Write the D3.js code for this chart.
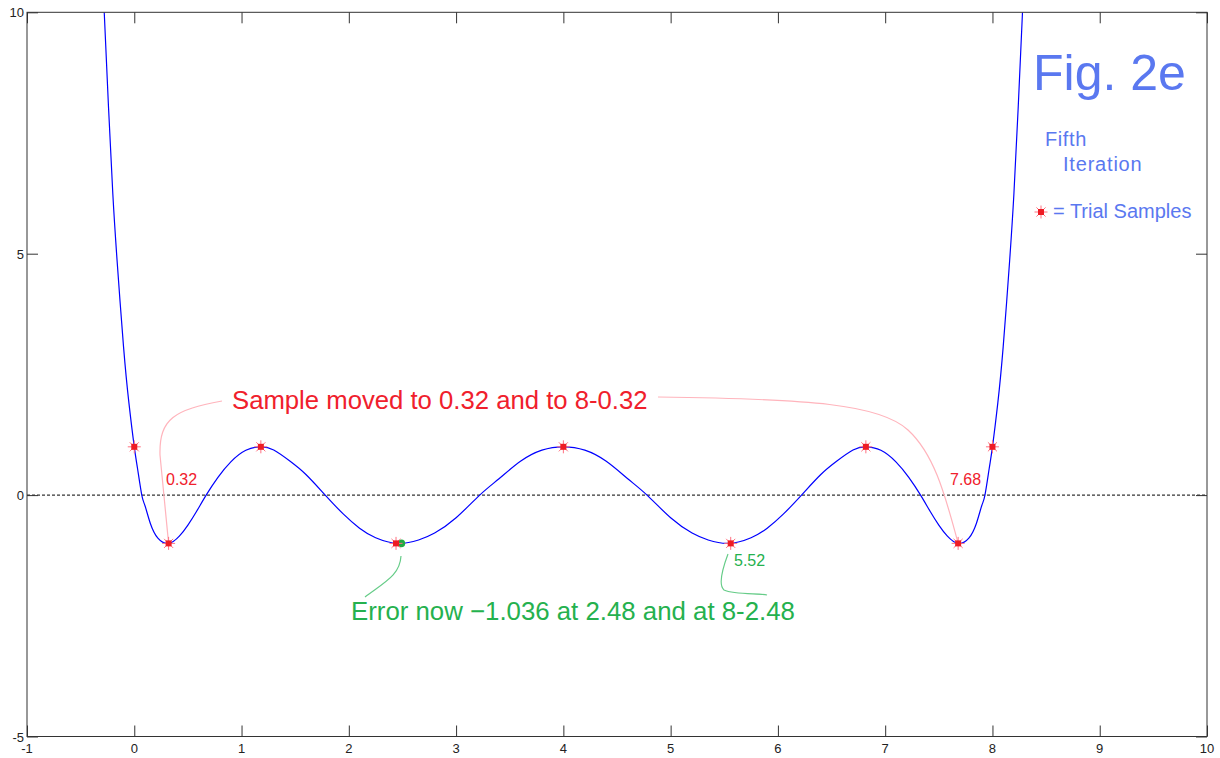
<!DOCTYPE html>
<html>
<head>
<meta charset="utf-8">
<script src="https://cdn.jsdelivr.net/npm/d3@7"></script>
<style>
  body { margin: 0; background: #fff; }
  svg { display: block; font-family: Arial, "Liberation Sans", sans-serif; }
</style>
</head>
<body>
<div id="chart"></div>
<script>
// Curve points (x, y)
const curveX = [-0.28, -0.24, -0.2, -0.16, -0.1, -0.05, 0, 0.03, 0.07, 0.1, 0.15, 0.22, 0.32,
  0.42, 0.5, 0.58, 0.67, 0.78, 0.9, 1.04, 1.18, 1.3, 1.45, 1.6, 1.78, 1.95, 2.1, 2.25, 2.46,
  2.65, 2.8, 3.0, 3.22, 3.4, 3.6, 3.8, 4.0,
  4.2, 4.4, 4.6, 4.78, 5.0, 5.2, 5.35, 5.54, 5.75, 5.9, 6.05, 6.22, 6.4, 6.55, 6.7, 6.82,
  6.96, 7.1, 7.22, 7.33, 7.42, 7.5, 7.58, 7.68, 7.78, 7.85, 7.9, 7.93, 7.97, 8.0, 8.05,
  8.1, 8.16, 8.2, 8.24, 8.28];
const curveY = [10.0, 8.03, 6.24, 4.85, 3.07, 1.91, 1.0, 0.556, 0.0, -0.22, -0.587, -0.891, -1.0,
  -0.85, -0.622, -0.34, 0.0, 0.368, 0.689, 0.928, 1.0, 0.933, 0.705, 0.426, 0.0, -0.395, -0.686, -0.882, -1.0,
  -0.929, -0.786, -0.469, 0.0, 0.339, 0.7, 0.931, 1.0,
  0.931, 0.7, 0.339, 0.0, -0.469, -0.786, -0.929, -1.0, -0.882, -0.686, -0.395, 0.0, 0.426, 0.705, 0.933, 1.0,
  0.928, 0.689, 0.368, 0.0, -0.34, -0.622, -0.85, -1.0, -0.891, -0.587, -0.22, 0.0, 0.556, 1.0, 1.91,
  3.07, 4.85, 6.24, 8.03, 10.0];

// Trial samples (red stars)
const sampleX = [0, 0.32, 1.18, 2.44, 4, 5.56, 6.82, 7.68, 8];
const sampleY = [1, -1, 1, -1, 1, -1, 1, -1, 1];

// Error point (green)
const errorPoint = [2.49, -1.0];

const xTicks = [-1, 0, 1, 2, 3, 4, 5, 6, 7, 8, 9, 10];
const yTicks = [-5, 0, 5, 10];

const width = 1220, height = 758;
const x = d3.scaleLinear().domain([-1, 10]).range([27, 1207]);
const y = d3.scaleLinear().domain([-5, 10]).range([736.5, 12.3]);

const svg = d3.select('#chart').append('svg')
  .attr('width', width)
  .attr('height', height);

// clip to the plot box
svg.append('clipPath').attr('id', 'plot')
  .append('rect')
  .attr('x', x(-1)).attr('y', y(10))
  .attr('width', x(10) - x(-1)).attr('height', y(-5) - y(10));

// zero line
svg.append('line')
  .attr('x1', x(-1)).attr('x2', x(10))
  .attr('y1', y(0)).attr('y2', y(0))
  .attr('stroke', '#000')
  .attr('stroke-width', 1)
  .attr('stroke-dasharray', '3,2');

// main curve
const pts = curveX.map((d, i) => [d, curveY[i]]);
svg.append('path')
  .attr('clip-path', 'url(#plot)')
  .attr('d', d3.line().x(d => x(d[0])).y(d => y(d[1])).curve(d3.curveNatural)(pts))
  .attr('fill', 'none')
  .attr('stroke', '#0000ff')
  .attr('stroke-width', 1.2);

// axes (ticks inside, on all sides)
const tick = 11;
svg.append('g')
  .attr('transform', `translate(0,${y(-5)})`)
  .call(d3.axisBottom(x).tickValues(xTicks).tickSize(-tick).tickFormat(''))
  .call(g => g.select('.domain').remove());
svg.append('g')
  .attr('transform', `translate(0,${y(10)})`)
  .call(d3.axisTop(x).tickValues(xTicks).tickSize(-tick).tickFormat(''))
  .call(g => g.select('.domain').remove());
svg.append('g')
  .attr('transform', `translate(${x(-1)},0)`)
  .call(d3.axisLeft(y).tickValues(yTicks).tickSize(-tick).tickFormat(''))
  .call(g => g.select('.domain').remove());
svg.append('g')
  .attr('transform', `translate(${x(10)},0)`)
  .call(d3.axisRight(y).tickValues(yTicks).tickSize(-tick).tickFormat(''))
  .call(g => g.select('.domain').remove());
svg.selectAll('.tick line').attr('stroke', '#333');

svg.append('rect')
  .attr('x', x(-1)).attr('y', y(10))
  .attr('width', x(10) - x(-1)).attr('height', y(-5) - y(10))
  .attr('fill', 'none')
  .attr('stroke', '#333')
  .attr('stroke-width', 1);

// tick labels
svg.append('g').selectAll('text')
  .data(xTicks)
  .join('text')
    .attr('x', d => x(d))
    .attr('y', y(-5) + 16)
    .attr('text-anchor', 'middle')
    .style('font-size', '13px')
    .style('fill', '#222')
    .text(d => d);
svg.append('g').selectAll('text')
  .data(yTicks)
  .join('text')
    .attr('x', x(-1) - 3)
    .attr('y', d => y(d) + 5)
    .attr('text-anchor', 'end')
    .style('font-size', '13px')
    .style('fill', '#222')
    .text(d => d);

// annotation leader lines
const pink = '#ffb4bc';
svg.append('path')
  .attr('d', `M222,401 C175,410 159,418 160,455 L${x(0.32)},${y(-1)}`)
  .attr('fill', 'none').attr('stroke', pink).attr('stroke-width', 1.2);
svg.append('path')
  .attr('d', `M658,397 C810,399 880,404 908,430 C933,453 944,490 ${x(7.68)},${y(-1)}`)
  .attr('fill', 'none').attr('stroke', pink).attr('stroke-width', 1.2);

const greenLine = '#66cc88';
svg.append('path')
  .attr('d', `M401,556 C400,575 385,582 365,597`)
  .attr('fill', 'none').attr('stroke', greenLine).attr('stroke-width', 1.2);
svg.append('path')
  .attr('d', `M728,554 C722,570 718,585 724,590 C735,595 760,593 767,595`)
  .attr('fill', 'none').attr('stroke', greenLine).attr('stroke-width', 1.2);

// sample markers
function star(g, cx, cy) {
  const r = 6.5;
  const k = r * 0.7;
  const sg = g.append('g').attr('transform', `translate(${cx},${cy})`);
  [[-r, 0, r, 0], [0, -r, 0, r], [-k, -k, k, k], [-k, k, k, -k]]
    .forEach(l => sg.append('line')
      .attr('x1', l[0]).attr('y1', l[1]).attr('x2', l[2]).attr('y2', l[3])
      .attr('stroke', '#ff7080').attr('stroke-width', 1));
  sg.append('rect').attr('x', -3).attr('y', -3).attr('width', 6).attr('height', 6).attr('fill', '#ee1c24');
}
const markers = svg.append('g');
// green error point under the red star
markers.append('circle')
  .attr('cx', x(errorPoint[0])).attr('cy', y(errorPoint[1]))
  .attr('r', 3.8).attr('fill', '#22aa44');
sampleX.forEach((d, i) => star(markers, x(d), y(sampleY[i])));

// annotation text
const red = '#f0202c', green = '#25b14e', blue = '#5a78f0';
svg.append('text').attr('x', 232).attr('y', 409)
  .style('font-size', '25.7px').style('fill', red)
  .text('Sample moved to 0.32 and to 8-0.32');
svg.append('text').attr('x', 166).attr('y', 485)
  .style('font-size', '16px').style('fill', red).text('0.32');
svg.append('text').attr('x', 950).attr('y', 485)
  .style('font-size', '16px').style('fill', red).text('7.68');
svg.append('text').attr('x', 734).attr('y', 566)
  .style('font-size', '16px').style('fill', green).text('5.52');
svg.append('text').attr('x', 351).attr('y', 620)
  .style('font-size', '25.8px').style('fill', green)
  .text('Error now \u22121.036 at 2.48 and at 8-2.48');

// legend / title block
svg.append('text').attr('x', 1033).attr('y', 90)
  .style('font-size', '50px').style('fill', blue).text('Fig. 2e');
svg.append('text').attr('x', 1045).attr('y', 146)
  .style('font-size', '20px').style('fill', blue).style('letter-spacing', '0.6px').text('Fifth');
svg.append('text').attr('x', 1063).attr('y', 171)
  .style('font-size', '20px').style('fill', blue).style('letter-spacing', '0.8px').text('Iteration');
star(svg, 1041, 212);
svg.append('text').attr('x', 1053).attr('y', 218)
  .style('font-size', '20px').style('fill', blue).text('= Trial Samples');
</script>
</body>
</html>
